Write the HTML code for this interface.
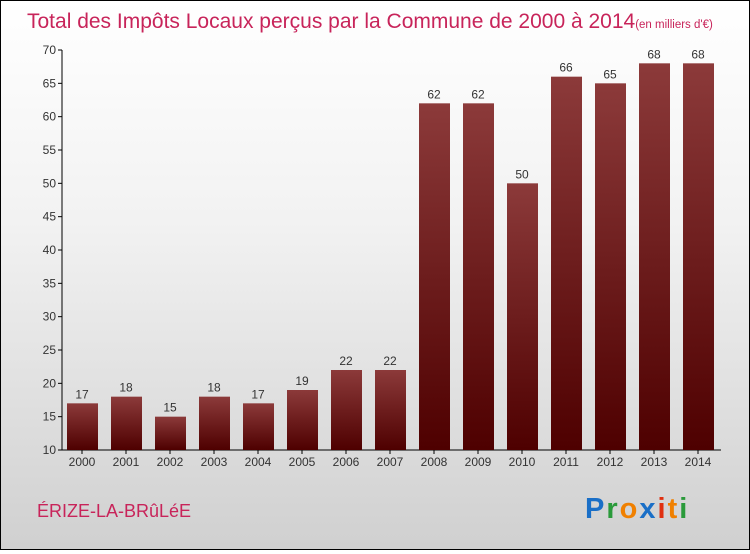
<!DOCTYPE html>
<html><head><meta charset="utf-8"><style>
html,body{margin:0;padding:0}
body{width:750px;height:550px;overflow:hidden;font-family:"Liberation Sans",sans-serif}
#frame{position:absolute;left:0;top:0;width:748px;height:548px;border:1px solid #000;background:linear-gradient(#ffffff 0%,#f2f2f2 40%,#d0d0d0 100%)}
</style></head><body>
<div id="frame">
<svg width="748" height="548" xmlns="http://www.w3.org/2000/svg">
<defs><linearGradient id="bg" x1="0" y1="0" x2="0" y2="1"><stop offset="0" stop-color="#8c3a3a"/><stop offset="1" stop-color="#4e0000"/></linearGradient></defs>
<text x="26" y="27" font-size="21" fill="#c8245a" font-weight="300">Total des Impôts Locaux perçus par la Commune de 2000 à 2014<tspan font-size="11.5">(en milliers d'€)</tspan></text>
<g id="axes"></g>
<g id="bars"></g>
<text x="36" y="516" font-size="18" fill="#c8245a">ÉRIZE-LA-BRûLéE</text>
<g font-size="29" font-family="Liberation Sans,sans-serif" font-weight="bold">
<text x="584" y="517" letter-spacing="2"><tspan fill="#1a6fc7">P</tspan><tspan fill="#2a9a3a">r</tspan><tspan fill="#f08000">o</tspan><tspan fill="#1a6fc7">x</tspan><tspan fill="#e03010">i</tspan><tspan fill="#f08000">t</tspan><tspan fill="#2a9a3a">i</tspan></text>
</g>
</svg></div>
<script>
const years=["2000","2001","2002","2003","2004","2005","2006","2007","2008","2009","2010","2011","2012","2013","2014"];
const values=[17,18,15,18,17,19,22,22,62,62,50,66,65,68,68];
const yTicks=[10,15,20,25,30,35,40,45,50,55,60,65,70];
const NS="http://www.w3.org/2000/svg";
const y0=449,y1=49,vmin=10,vmax=70;
const ys=v=>y0-(v-vmin)/(vmax-vmin)*(y0-y1);
const xc=i=>81+i*44;
function mk(t,a,p){const e=document.createElementNS(NS,t);for(const k in a)e.setAttribute(k,a[k]);p.appendChild(e);return e;}
const ax=document.getElementById('axes'),bg=document.getElementById('bars');
const yl=mk('line',{x1:61,y1:y1,x2:61,y2:y0,stroke:'#000'},ax);


const xl=mk('line',{x1:61,y1:y0,x2:720,y2:y0,stroke:'#000'},ax);


yTicks.forEach(t=>{const y=ys(t);
mk('line',{x1:57,y1:y,x2:61,y2:y,stroke:'#000'},ax);
const tx=mk('text',{x:55,y:y+4,'font-size':12,fill:'#333','text-anchor':'end'},ax);tx.textContent=t;

});
years.forEach((yr,i)=>{const x=xc(i),v=values[i];
const r=mk('rect',{x:x-15,y:ys(v),width:31,height:y0-ys(v),fill:'url(#bg)'},bg);


mk('line',{x1:x,y1:y0,x2:x,y2:y0+4,stroke:'#000'},ax);
const lt=mk('text',{x:x,y:ys(v)-5,'font-size':12,fill:'#333','text-anchor':'middle'},bg);lt.textContent=v;


const xt=mk('text',{x:x,y:465,'font-size':12,fill:'#333','text-anchor':'middle'},ax);xt.textContent=yr;

});
</script>
</body></html>
